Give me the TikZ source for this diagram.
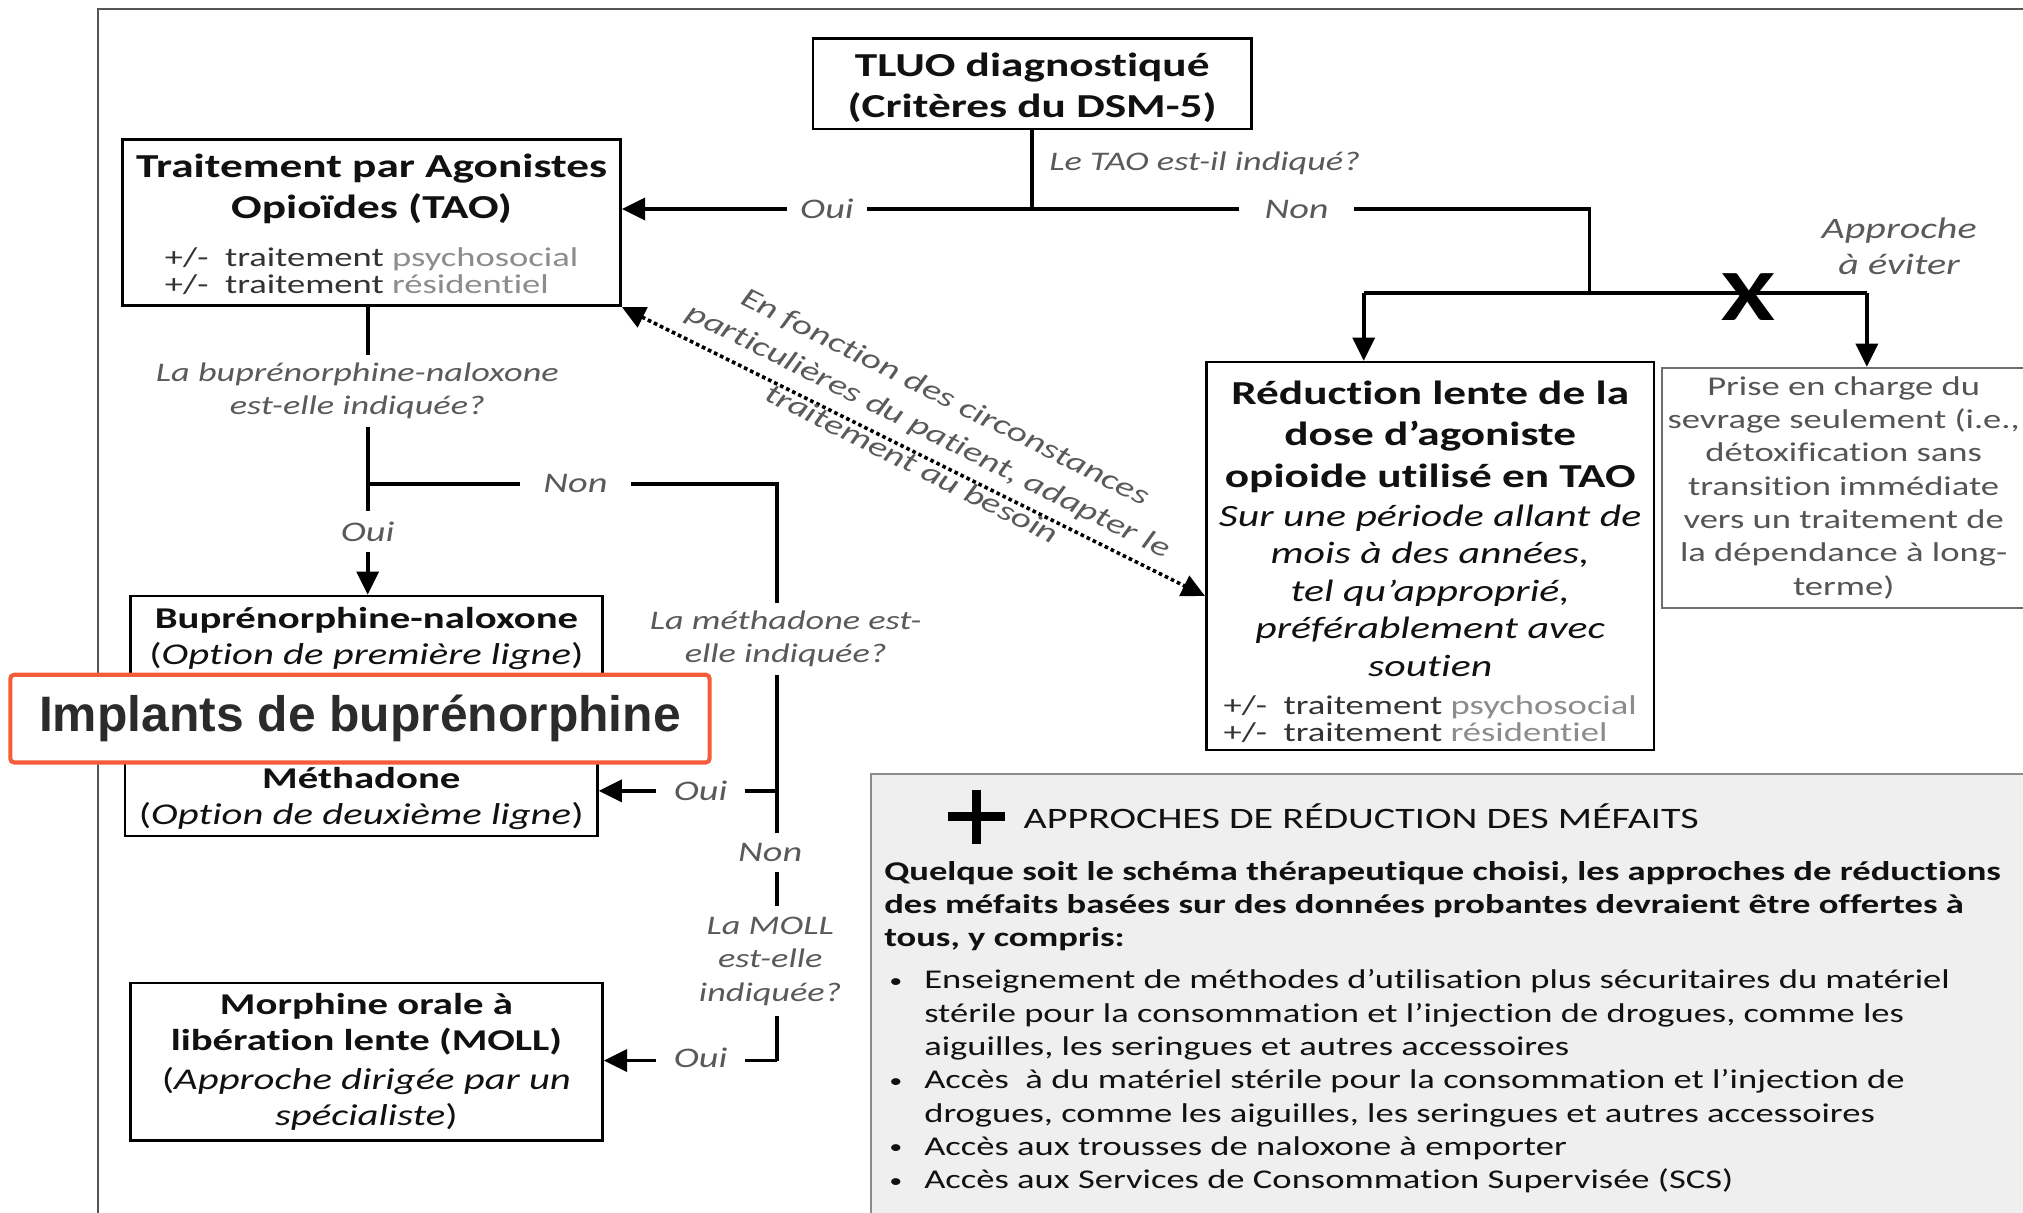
\documentclass[tikz,border=0pt]{standalone}
\usepackage{fontspec}
\setmainfont{Carlito}[FakeStretch=1.35, Ligatures=NoCommon]
\newfontfamily\implfont{Liberation Sans}
\usetikzlibrary{arrows.meta}
\definecolor{txt}{HTML}{111111}
\definecolor{lblgray}{HTML}{5A5A5A}
\definecolor{pmdark}{HTML}{333333}
\definecolor{pmlight}{HTML}{8C8C8C}
\definecolor{prisegray}{HTML}{555555}
\definecolor{boxgray}{HTML}{6E6E6E}
\definecolor{harmfill}{HTML}{EFEFEF}
\definecolor{harmborder}{HTML}{8C8C8C}
\definecolor{ovred}{HTML}{F45D3A}
\definecolor{impltxt}{HTML}{2B2B2B}
\definecolor{framegray}{HTML}{555555}
\newcommand\fontT{\fontsize{13}{16}\selectfont}
\newcommand\fontM{\fontsize{11.7}{14.2}\selectfont}
\newcommand\fontS{\fontsize{10.5}{10.5}\selectfont}
\newcommand\fontI{\fontsize{12}{14.5}\selectfont}
\newcommand\fontQ{\fontsize{10.4}{13}\selectfont}
\newcommand\fontL{\fontsize{11}{13}\selectfont}
\newcommand\pmlines[2]{{\fontS\begin{tabular}[t]{@{}l@{}}\textcolor{pmdark}{+/-\ \ traitement} \textcolor{pmlight}{#1}\\\textcolor{pmdark}{+/-\ \ traitement} \textcolor{pmlight}{#2}\end{tabular}}}
\newcommand\bul{\hspace*{2pt}\makebox[13.5pt][l]{\raisebox{0.6pt}{\fontsize{7.5}{7.5}\selectfont •}}}
\newcommand\ind{\hspace*{15.5pt}}
\begin{document}
\begin{tikzpicture}[x=0.5pt,y=-0.5pt,
  box/.style={draw=black, line width=1pt, fill=white, inner sep=0pt, align=center, text=txt},
  conn/.style={line width=1.5pt, draw=black},
  arr/.style={conn, -{Triangle[length=9pt,width=8.5pt]}},
  dotarr/.style={line width=1.4pt, dash pattern=on 1.4pt off 1.2pt, {Triangle[length=9pt,width=8.5pt]}-{Triangle[length=9pt,width=8.5pt]}},
  lab/.style={fill=white, inner xsep=6pt, inner ysep=3pt, text=lblgray, font=\fontL\itshape, align=center},
  qlab/.style={fill=white, inner xsep=3pt, inner ysep=3pt, text=lblgray, font=\fontQ\itshape, align=center},
]
\clip (0,0) rectangle (1568,940);
\fill[white] (0,0) rectangle (1568,940);
\draw[framegray, line width=0.9pt] (76,7) rectangle (1620,990);

% boxes
\node[box, minimum width=170pt, minimum height=35pt, font=\fontT\bfseries] (tluo) at (800,65) {\rule{0pt}{12pt}TLUO diagnostiqué\\(Critères du DSM-5)};
\node[box, minimum width=193pt, minimum height=64.5pt, font=\fontT] (tao) at (288,172.5)
  {\rule{0pt}{13pt}{\bfseries Traitement par Agonistes}\\{\bfseries Opioïdes (TAO)}\\[2.5pt]\pmlines{psychosocial}{résidentiel}};
\node[box, minimum width=173.5pt, minimum height=147pt, font=\fontT] (red) at (1108.5,431)
  {\rule{0pt}{16.5pt}{\bfseries Réduction lente de la}\\{\bfseries dose d’agoniste}\\{\bfseries opioide utilisé en TAO}\\[-0.8pt]
   {\fontI\itshape Sur une période allant de}\\[-1.5pt]{\fontI\itshape mois à des années,}\\[-1.5pt]
   {\fontI\itshape tel qu’approprié,}\\[-1.5pt]{\fontI\itshape préférablement avec}\\[-1.5pt]
   {\fontI\itshape soutien}\\[-1pt]\pmlines{psychosocial}{résidentiel}};
\node[box, draw=boxgray, line width=0.7pt, minimum width=141pt, minimum height=93pt, text=prisegray,
  font=\fontsize{10.5}{12.9}\selectfont] (prise) at (1429,378)
  {Prise en charge du\\sevrage seulement (i.e.,\\détoxification sans\\transition immédiate\\vers un traitement de\\la dépendance à long-\\terme)};
\node[box, minimum width=183pt, minimum height=33pt, font=\fontM] (bupr) at (284,495)
  {{\bfseries Buprénorphine-naloxone}\\(\textit{Option de première ligne})};
\node[box, minimum width=183pt, minimum height=35pt, font=\fontM] (meth) at (280,613)
  {\rule{0pt}{14pt}{\bfseries Méthadone}\\(\textit{Option de deuxième ligne})};
\node[box, minimum width=183pt, minimum height=61pt, font=\fontM] (moll) at (284,823)
  {{\bfseries Morphine orale à}\\{\bfseries libération lente (MOLL)}\\[0.6pt](\textit{Approche dirigée par un}\\\textit{spécialiste})};

% connectors from TLUO
\coordinate (j0) at (800,162);
\coordinate (j0r) at (1232,162);
\coordinate (j0d) at (1232,227);
\coordinate (k1) at (1057,227);
\coordinate (k2) at (1447,227);
\draw[conn] (tluo.south) -- (j0);
\draw[arr] (j0) -- (tao.east |- j0);
\draw[conn] (j0) -- (j0r) -- (j0d);
\draw[conn] (k1) -- (k2);
\draw[arr] (k1) -- (k1 |- red.north);
\draw[arr] (k2) -- (k2 |- prise.north);
\node[lab, inner xsep=5pt] (oui1) at (641,162) {Oui};
\node[lab, inner xsep=10pt] (non1) at (1005,162) {Non};
\node[anchor=west, inner sep=0pt, text=lblgray, font=\fontQ\itshape] (q0) at (813,127) {Le TAO est-il indiqué?};
\node[inner sep=0pt, font=\fontsize{28}{28}\selectfont\bfseries] (xmark) at (1355,230) {X};
\node[inner sep=0pt, text=lblgray, font=\fontsize{11.5}{14}\selectfont\itshape, align=center] (avoid) at (1472,191) {Approche\\à éviter};

% TAO branch
\coordinate (b0) at (285,375);
\coordinate (b1) at (602,375);
\coordinate (b2) at (602,822);
\coordinate (b4) at (602,613);
\draw[arr] (tao.south -| b0) -- (bupr.north -| b0);
\draw[conn] (b0) -- (b1) -- (b2);
\draw[arr] (b2) -- (moll.east |- b2);
\draw[arr] (b4) -- (meth.east |- b4);
\node[qlab] (q1) at (277,303) {La buprénorphine-naloxone\\est-elle indiquée?};
\node[lab, inner ysep=4pt] (oui2) at (285,412) {Oui};
\node[lab, inner xsep=9pt] (non2) at (446,375) {Non};
\node[qlab] (q2) at (609,495) {La méthadone est-\\elle indiquée?};
\node[lab, inner xsep=7pt] (oui3) at (543,613) {Oui};
\node[lab, inner ysep=4pt] (non3) at (597,661) {Non};
\node[qlab, inner ysep=4pt] (q3) at (597,745) {La MOLL\\est-elle\\indiquée?};
\node[lab, inner xsep=7pt] (oui4) at (543,820) {Oui};

% dotted double arrow
\draw[dotarr] (tao.south east) -- ([yshift=-15.5pt]red.west);
\node[inner sep=0pt, rotate=-26.6, text=lblgray, font=\fontsize{11}{14.5}\selectfont\itshape, align=center] (circ) at (720,333)
  {En fonction des circonstances\\particulières du patient, adapter le\\traitement au besoin};

% harm reduction box
\node[draw=harmborder, line width=0.9pt, fill=harmfill, minimum width=462.5pt, minimum height=180pt] (harm) at (1137.5,780) {};
\draw[line width=3.5pt] (735,633) -- (779,633) (757,612) -- (757,654);
\node[anchor=west, inner sep=0pt, text=txt, font=\fontsize{11.5}{14}\selectfont] (harmhead) at (793,633) {APPROCHES DE RÉDUCTION DES MÉFAITS};
\node[anchor=north west, inner sep=0pt, align=left, text=txt, font=\fontsize{10.5}{12.9}\selectfont] (harmbody) at (685,667)
  {\textbf{Quelque soit le schéma thérapeutique choisi, les approches de réductions}\\
   \textbf{des méfaits basées sur des données probantes devraient être offertes à}\\
   \textbf{tous, y compris:}\\[3.5pt]
   \bul Enseignement de méthodes d’utilisation plus sécuritaires du matériel\\
   \ind stérile pour la consommation et l’injection de drogues, comme les\\
   \ind aiguilles, les seringues et autres accessoires\\
   \bul Accès\ \ à du matériel stérile pour la consommation et l’injection de\\
   \ind drogues, comme les aiguilles, les seringues et autres accessoires\\
   \bul Accès aux trousses de naloxone à emporter\\
   \bul Accès aux Services de Consommation Supervisée (SCS)};

% overlay
\node[draw=ovred, line width=1.6pt, fill=white, rounded corners=1.5pt, minimum width=271pt, minimum height=34pt,
  text=impltxt, font=\implfont\bfseries\fontsize{19.3}{22}\selectfont] (impl) at (279,557) {Implants de buprénorphine};
\end{tikzpicture}
\end{document}
